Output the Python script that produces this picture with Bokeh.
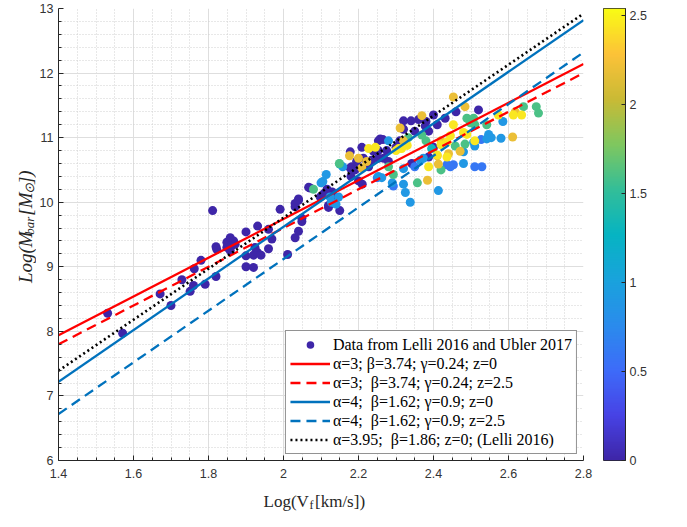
import numpy as np
from bokeh.plotting import figure
from bokeh.layouts import row, column
from bokeh.models import (ColumnDataSource, LinearColorMapper, FixedTicker,
                          Legend, LegendItem)
from bokeh.core.properties import value
from bokeh.embed import file_html
from bokeh.resources import INLINE

# ---------------- data ----------------
# z = 0 sample (purple)
purple_x = [1.531, 1.571, 1.671, 1.700, 1.729, 1.751, 1.760, 1.762, 1.780, 1.791,
            1.811, 1.820, 1.820, 1.822, 1.849, 1.858, 1.867, 1.862, 1.849, 1.871,
            1.858, 1.900, 1.900, 1.900, 1.920, 1.920, 1.931, 1.940, 1.924, 1.931,
            1.960, 1.969, 1.960, 1.991, 2.011, 2.031, 2.040, 2.031, 2.040, 2.049,
            2.049, 2.071, 2.098, 2.120, 2.120, 2.150, 2.130, 2.040, 2.031, 2.067,
            2.116, 2.107, 2.138, 2.180, 2.200, 2.210, 2.178, 2.178, 2.209, 2.240,
            2.253, 2.275, 2.258, 2.253, 2.265, 2.300, 2.310, 2.310, 2.320, 2.340,
            2.360, 2.380, 2.378, 2.387, 2.400, 2.431, 2.410, 2.460, 2.520, 2.387,
            2.400, 2.350, 2.213, 2.195, 2.182, 2.191, 2.235, 2.253, 2.267, 2.280,
            2.227, 2.342, 2.320]
purple_y = [8.28, 7.97, 8.58, 8.40, 8.80, 8.62, 8.71, 8.97, 9.10, 8.73,
            9.87, 8.85, 9.31, 9.27, 9.38, 9.45, 9.40, 9.33, 9.30, 9.35,
            9.25, 9.54, 9.17, 9.00, 8.99, 9.18, 9.22, 9.18, 9.30, 9.63,
            9.58, 9.43, 9.28, 9.89, 9.19, 9.45, 9.55, 9.93, 10.03, 9.75,
            9.70, 10.22, 10.08, 9.95, 9.92, 9.87, 10.16, 10.05, 9.98, 10.23,
            10.20, 10.13, 10.08, 10.40, 10.33, 10.28, 10.78, 10.53, 10.85, 10.79,
            10.80, 10.80, 10.98, 10.95, 10.97, 10.85, 10.90, 10.95, 11.26, 11.26,
            11.28, 11.25, 11.18, 11.10, 11.35, 11.30, 11.20, 11.40, 11.43, 10.70,
            10.85, 11.10, 10.68, 10.63, 10.55, 10.50, 10.65, 10.68, 10.68, 10.63,
            10.55, 10.60, 11.13]
purple_z = 0.0

blue_x = [2.527, 2.510, 2.529, 2.436, 2.453, 2.445, 2.250, 2.293, 2.350]
blue_y = [10.97, 10.55, 10.55, 10.58, 10.58, 10.55, 10.38, 10.25, 10.55]
blue_z = 0.6

lblue_x = [2.585, 2.547, 2.554, 2.542, 2.580, 2.507, 2.510, 2.480, 2.105, 2.114,
           2.100, 2.140, 2.147, 2.158, 2.124, 2.128, 2.253, 2.290, 2.320, 2.325,
           2.338, 2.413, 2.365, 2.373, 2.280, 2.320, 2.262, 2.480]
lblue_y = [11.25, 11.05, 11.00, 10.98, 10.99, 10.93, 10.87, 10.60, 10.32, 10.43,
           10.30, 9.97, 10.08, 10.55, 10.08, 10.00, 10.40, 10.30, 10.28, 10.15,
           10.00, 10.18, 10.65, 10.68, 10.95, 10.52, 10.38, 10.78]
lblue_z = 0.9

teal_x = [2.150, 2.395]
teal_y = [10.59, 10.83]
teal_z = 1.3

green_x = [2.489, 2.507, 2.498, 2.510, 2.542, 2.640, 2.674, 2.680, 2.080, 2.149,
           2.293, 2.357, 2.420, 2.458, 2.484, 2.333, 2.380, 2.369, 2.280]
green_y = [11.30, 11.30, 11.23, 11.20, 11.20, 11.48, 11.48, 11.38, 10.20, 10.60,
           10.43, 10.30, 10.50, 10.87, 10.90, 11.00, 10.95, 11.04, 10.55]
green_z = 1.6

orange_x = [2.453, 2.484, 2.369, 2.311, 2.618, 2.611, 2.176, 2.384, 2.413, 2.440,
            2.471, 2.320, 2.420, 2.410, 2.200, 2.209, 2.222]
orange_y = [11.63, 11.48, 11.34, 11.15, 11.40, 11.01, 10.72, 10.34, 10.59, 10.75,
            10.79, 10.95, 10.95, 10.72, 10.68, 10.53, 10.63]
orange_z = 2.2

yellow_x = [2.453, 2.573, 2.613, 2.635, 2.510, 2.227, 2.245, 2.387, 2.410, 2.436,
            2.420, 2.436, 2.445, 2.489, 2.480, 2.330, 2.300, 2.307, 2.315]
yellow_y = [11.20, 11.35, 11.35, 11.35, 10.95, 10.83, 10.85, 10.55, 10.73, 10.70,
            10.89, 10.93, 11.03, 11.05, 11.08, 10.88, 10.80, 10.83, 10.83]
yellow_z = 2.45

# model lines (end points at x = 1.4 and x = 2.8)
line_x = [1.4, 2.8]
red_solid_y = [7.94, 12.14]
red_dash_y = [7.80, 12.00]
blue_solid_y = [7.22, 12.82]
blue_dash_y = [6.72, 12.32]
black_dot_y = [7.39, 12.92]

legend_labels = ["Data from Lelli 2016 and Ubler 2017",
                 "\u03b1=3; \u03b2=3.74; \u03b3=0.24; z=0",
                 "\u03b1=3;  \u03b2=3.74; \u03b3=0.24; z=2.5",
                 "\u03b1=4;  \u03b2=1.62; \u03b3=0.9; z=0",
                 "\u03b1=4;  \u03b2=1.62; \u03b3=0.9; z=2.5",
                 "\u03b1=3.95;  \u03b2=1.86; z=0; (Lelli 2016)"]

x_ticks = [1.4, 1.6, 1.8, 2.0, 2.2, 2.4, 2.6, 2.8]
x_tick_labels = ["1.4", "1.6", "1.8", "2", "2.2", "2.4", "2.6", "2.8"]
y_ticks = [6, 7, 8, 9, 10, 11, 12, 13]
cb_ticks = [0, 0.5, 1, 1.5, 2, 2.5]
cb_tick_labels = ["0", "0.5", "1", "1.5", "2", "2.5"]
z_top = 2.54

# ---------------- build ----------------
groups = [(purple_x, purple_y, purple_z), (blue_x, blue_y, blue_z),
          (lblue_x, lblue_y, lblue_z), (teal_x, teal_y, teal_z),
          (green_x, green_y, green_z), (orange_x, orange_y, orange_z),
          (yellow_x, yellow_y, yellow_z)]
xs, ys, zs = [], [], []
for gx, gy, gz in groups:
    xs += gx
    ys += gy
    zs += [gz] * len(gx)
src = ColumnDataSource(dict(x=xs, y=ys, z=zs))

# parula-like palette
anchors = ["#3E26A8", "#4743E6", "#3D6CF9", "#2A8CEC", "#19A3DC", "#06B4C2",
           "#33BE98", "#7FC75F", "#C9BA35", "#FCC238", "#F9FB15"]
A = np.array([[int(h[i:i + 2], 16) for i in (1, 3, 5)] for h in anchors], float)
ta = np.linspace(0, 1, len(anchors))
tt = np.linspace(0, 1, 256)
palette = ["#%02x%02x%02x" % tuple(int(round(np.interp(v, ta, A[:, k]))) for k in range(3))
           for v in tt]
mapper = LinearColorMapper(palette=palette, low=0, high=z_top)

AX = "#262626"
TICK_FONT = "Liberation Sans"
SERIF = "Liberation Serif"

# geometry (pixels)
B_TOP, B_BOT, H_XLAB = 8, 24, 27
FR_H = 511 - H_XLAB - B_BOT - B_TOP
H_TOP = B_TOP + FR_H + B_BOT
W_YLAB = 36
W_MAIN_L, FR_W, W_MAIN_R = 21, 526, 10
W_CB_L, W_CB, W_CB_R = 10, 22, 46
W_ALL = W_YLAB + W_MAIN_L + FR_W + W_MAIN_R + W_CB_L + W_CB + W_CB_R

# ---- main plot
p = figure(width=W_MAIN_L + FR_W + W_MAIN_R, height=H_TOP,
           x_range=(1.4, 2.8), y_range=(6, 13),
           output_backend="svg", toolbar_location=None,
           min_border_left=W_MAIN_L, min_border_right=W_MAIN_R,
           min_border_top=B_TOP, min_border_bottom=B_BOT)
p.outline_line_color = None

xminor = [round(v, 3) for v in np.arange(1.4, 2.8001, 0.05) if all(abs(v - t) > 1e-6 for t in x_ticks)]
yminor = [round(v, 3) for v in np.arange(6, 13.001, 0.2) if all(abs(v - t) > 1e-6 for t in y_ticks)]
xt = FixedTicker(ticks=x_ticks, minor_ticks=xminor)
yt = FixedTicker(ticks=y_ticks, minor_ticks=yminor)
p.xaxis.ticker = xt
p.yaxis.ticker = yt
p.xgrid.ticker = xt
p.ygrid.ticker = yt
p.xaxis.major_label_overrides = {t: l for t, l in zip(x_ticks, x_tick_labels)}

for ax in (p.xaxis[0], p.yaxis[0]):
    ax.axis_line_color = AX
    ax.axis_line_width = 1
    ax.major_tick_line_color = AX
    ax.minor_tick_line_color = AX
    ax.major_tick_in = 5
    ax.major_tick_out = 0
    ax.minor_tick_in = 3
    ax.minor_tick_out = 0
    ax.major_label_text_font = TICK_FONT
    ax.major_label_text_font_size = "12.5px"
    ax.major_label_text_color = "#333333"
p.xaxis.major_label_standoff = 8
p.yaxis.major_label_standoff = 5

for g in (p.xgrid[0], p.ygrid[0]):
    g.grid_line_color = "#dedede"
    g.grid_line_width = 1
    g.minor_grid_line_color = "#d0d0d0"
    g.minor_grid_line_dash = "1 2"
    g.minor_grid_line_width = 1

sc = p.scatter("x", "y", source=src, size=9, line_color=None,
               fill_color={"field": "z", "transform": mapper})

r1 = p.line(line_x, red_solid_y, line_color="#FF0000", line_width=2.3)
r2 = p.line(line_x, red_dash_y, line_color="#FF0000", line_width=2.3, line_dash="10 6")
r3 = p.line(line_x, blue_solid_y, line_color="#0072BD", line_width=2.3)
r4 = p.line(line_x, blue_dash_y, line_color="#0072BD", line_width=2.3, line_dash="10 6")
r5 = p.line(line_x, black_dot_y, line_color="black", line_width=2.6, line_dash="2 3")

items = [LegendItem(label=value(lab), renderers=[r], index=(0 if r is sc else None))
         for lab, r in zip(legend_labels, [sc, r1, r2, r3, r4, r5])]
legend = Legend(items=items, location="bottom_right")
legend.label_text_font = SERIF
legend.label_text_font_size = "16px"
legend.label_text_color = "black"
legend.glyph_width = 40
legend.glyph_height = 19
legend.label_height = 19
legend.label_standoff = 3
legend.spacing = 0
legend.padding = 4
legend.margin = 6
legend.border_line_color = AX
legend.border_line_width = 1
legend.background_fill_alpha = 1
p.add_layout(legend)

# ---- colour bar as its own small plot
cbf = figure(width=W_CB_L + W_CB + W_CB_R, height=H_TOP, x_range=(0, 1), y_range=(0, z_top),
             output_backend="svg", toolbar_location=None,
             x_axis_location=None, y_axis_location="right",
             min_border_left=W_CB_L, min_border_right=W_CB_R,
             min_border_top=B_TOP, min_border_bottom=B_BOT)
cbf.grid.visible = False
cbf.outline_line_color = AX
cbf.image(image=[np.linspace(0, z_top, 256).reshape(256, 1)], x=0, y=0, dw=1, dh=z_top,
          color_mapper=mapper)
cax = cbf.yaxis[0]
cax.ticker = FixedTicker(ticks=cb_ticks)
cax.major_label_overrides = {t: l for t, l in zip(cb_ticks, cb_tick_labels)}
cax.axis_line_color = AX
cax.major_tick_line_color = AX
cax.major_tick_in = 4
cax.major_tick_out = 0
cax.minor_tick_line_color = None
cax.major_label_standoff = 4
cax.major_label_text_font = TICK_FONT
cax.major_label_text_font_size = "12.5px"
cax.major_label_text_color = "#333333"


def blank(w, h):
    f = figure(width=w, height=h, x_range=(0, w), y_range=(0, h),
               output_backend="svg", toolbar_location=None,
               x_axis_location=None, y_axis_location=None, min_border=0)
    f.grid.visible = False
    f.outline_line_color = None
    return f


# ---- y axis title (rotated, with subscripts)
ylab = blank(W_YLAB, H_TOP)
yc = H_TOP - (B_TOP + FR_H / 2.0)
y_parts = [("Log(M", 0, "19px", 0.0), ("bar", 4, "13px", 51.7),
           ("[M", 0, "19px", 72.2), ("\u2299", 4, "13px", 95.4),
           ("])", 0, "19px", 106.0)]
y_start = yc - 60
for txt, dx, fs, off in y_parts:
    ylab.text(x=[25 + dx], y=[y_start + off], text=[txt], angle=np.pi / 2,
              text_align="left", text_baseline="alphabetic",
              text_font=value(SERIF), text_font_style="italic",
              text_font_size=fs, text_color=AX)

# ---- x axis title (with subscript)
xlab = blank(W_ALL, H_XLAB)
x_start = W_YLAB + W_MAIN_L + FR_W / 2.0 - 57
xlab.text(x=[x_start], y=[10.5], text=["Log(V"], text_align="left", text_baseline="alphabetic",
          text_font=value(SERIF), text_font_size="17px", text_color=AX)
xlab.text(x=[x_start + 46], y=[6.5], text=["f"], text_align="left", text_baseline="alphabetic",
          text_font=value(SERIF), text_font_size="12px", text_color=AX)
xlab.text(x=[x_start + 51.5], y=[10.5], text=[" [km/s])"], text_align="left",
          text_baseline="alphabetic", text_font=value(SERIF), text_font_size="17px",
          text_color=AX)

layout = column(row(ylab, p, cbf), xlab)
open("out.html", "w").write(file_html(layout, INLINE))
